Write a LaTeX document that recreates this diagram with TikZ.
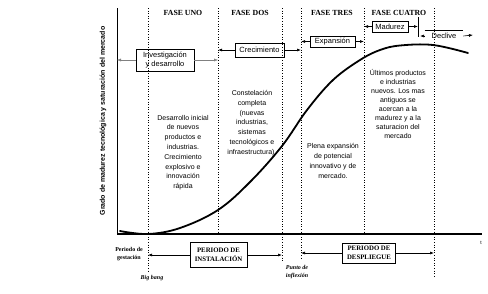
\documentclass[tikz,border=0pt]{standalone}
\usepackage{fontspec}
\setmainfont{Liberation Sans}
\newfontfamily\serifx{Liberation Serif}
\usetikzlibrary{positioning,arrows.meta,calc}

\begin{document}
\begin{tikzpicture}[x=1pt,y=-1pt,
    fase/.style={font=\serifx\bfseries\fontsize{7.8}{8}\selectfont},
    caja/.style={draw,line width=0.7pt,inner sep=1pt,align=center,font=\fontsize{7.5}{8.5}\selectfont},
    nota/.style={align=center,font=\fontsize{7}{9.8}\selectfont},
    periodo/.style={draw,line width=0.6pt,inner sep=1pt,align=center,font=\serifx\bfseries\fontsize{6.8}{9.5}\selectfont},
    marca/.style={align=center,font=\serifx\itshape\bfseries\fontsize{6}{8.5}\selectfont},
    guia/.style={dotted,line width=0.6pt},
    flecha/.style={-{Latex[length=4pt,width=3pt]},line width=0.6pt}]
  \useasboundingbox (0,0) rectangle (488,293);
  % ejes
  \coordinate (ytop) at (117,8);
  \coordinate (orig) at (117,234);
  \coordinate (xend) at (482,234);
  \draw[line width=1pt] (ytop) -- (orig);
  \draw[line width=1.5pt] (orig) -- (xend);
  \node[font=\fontsize{5}{6}\selectfont] (tlab) at (481,243) {t};
  \node[rotate=90,font=\bfseries\fontsize{7}{8}\selectfont] (ylab) at (103,121)
    {Grado de madurez tecnológica y saturación del mercado};
  % lineas de fase
  \foreach \n/\x/\b in {a/148/272,b/218/234,c/282/262,d/301/258,e/364/234,f/434/276}{
    \coordinate (g\n) at (\x,8);
    \coordinate (h\n) at (\x,\b);
    \draw[guia] (g\n) -- (h\n);
  }
  \foreach \x/\t in {183/FASE UNO,250/FASE DOS,332/FASE TRES,399/FASE CUATRO}
    \node[fase] at (\x,13) {\t};
  % curva
  \draw[line width=1.8pt,line cap=round] plot[smooth,tension=0.6] coordinates
    {(120,231) (148,234) (180,228) (218,210) (250,182) (282,146) (307,110)
     (333,80) (360,60) (380,50) (400,45.5) (433,45) (468,53)};
  % cajas de arriba
  \node[caja,minimum width=58,minimum height=22] (inv) at (165,60) {Investigación\\y desarrollo};
  \node[caja,minimum width=49,minimum height=14] (crec) at (259.5,50) {Crecimiento};
  \node[caja,minimum width=45,minimum height=11] (exp) at (332.5,41.5) {Expansión};
  \node[caja,minimum width=36,minimum height=11] (mad) at (390,26.5) {Madurez};
  \node[caja,draw=none,inner ysep=2.5pt,minimum width=38] (dec) at (444,36) {Declive};
  \draw[line width=0.7pt] (dec.north west) -- (dec.north east);
  \coordinate (barA) at (418,17);
  \coordinate (barB) at (418,37);
  \coordinate (decfin) at (473,35);
  \draw[line width=0.7pt] (barA) -- (barB);
  \draw[flecha,gray,line width=0.4pt] (inv.west) -- (inv.west -| ytop);
  \draw[flecha,gray,line width=0.4pt] (inv.east) -- (inv.east -| gb);
  \draw[flecha,line width=1pt] (crec.west) -- (crec.west -| gb);
  \draw[flecha] (crec.east) -- (crec.east -| gd);
  \draw[flecha] (exp.west) -- (exp.west -| gd);
  \draw[flecha] (exp.east) -- (exp.east -| ge);
  \draw[flecha] (mad.west) -- (mad.west -| ge);
  \draw[flecha] (mad.east) -- (mad.east -| barA);
  \draw[flecha] (dec.west) -- ($(dec.west -| barA)+(2,0)$);
  \draw[flecha] (dec.east) -- (decfin);
  % textos
  \node[nota] (txtuno) at (183,152.5) {Desarrollo inicial\\de nuevos\\productos e\\industrias.\\Crecimiento\\explosivo e\\innovación\\rápida};
  \node[nota] (txtdos) at (252,123) {Constelación\\completa\\(nuevas\\industrias,\\sistemas\\tecnológicos e\\infraestructura).};
  \node[nota] (txttres) at (333,161) {Plena expansión\\de potencial\\innovativo y de\\mercado.};
  \node[nota,font=\fontsize{7}{9}\selectfont] (txtcuatro) at (398,103.5) {Últimos productos\\e industrias\\nuevos. Los mas\\antiguos se\\acercan a la\\madurez y a la\\saturacion del\\mercado};
  % periodos
  \node[marca,font=\serifx\bfseries\fontsize{6}{8.5}\selectfont] (gest) at (129,254) {Periodo de\\gestación};
  \node[marca] (bang) at (152,278) {Big bang};
  \node[marca] (infl) at (297,272) {Punto de\\inflexión};
  \node[periodo,minimum width=57,minimum height=25] (inst) at (218.5,255) {PERIODO DE\\INSTALACIÓN};
  \node[periodo,minimum width=53,minimum height=20] (desp) at (369,253) {PERIODO DE\\DESPLIEGUE};
  \draw[flecha] (inst.west) -- (inst.west -| ga);
  \draw[flecha] (inst.east) -- (inst.east -| gc);
  \draw[flecha] (desp.west) -- (desp.west -| gd);
  \draw[flecha] (desp.east) -- (desp.east -| gf);
\end{tikzpicture}
\end{document}
